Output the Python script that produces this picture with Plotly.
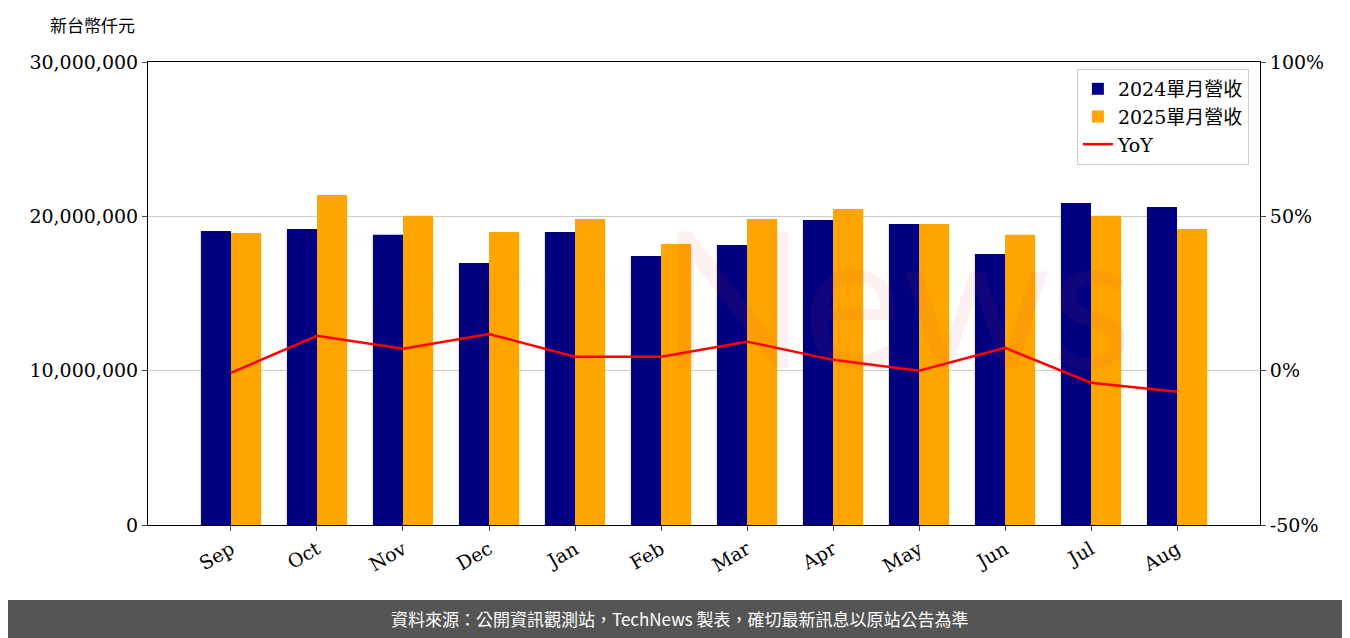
import plotly.graph_objects as go

months = ["Sep","Oct","Nov","Dec","Jan","Feb","Mar","Apr","May","Jun","Jul","Aug"]
rev2024 = [19050000,19180000,18800000,16980000,18990000,17430000,18150000,19770000,19500000,17560000,20870000,20600000]
rev2025 = [18920000,21390000,20030000,18990000,19830000,18210000,19830000,20480000,19500000,18800000,20030000,19180000]
yoy = [-0.7,11.3,7.1,11.9,4.5,4.5,9.4,3.5,0.0,7.4,-3.9,-6.8]
yoy_ticks = [-50, 0, 50, 100]

F = "DejaVu Serif, Noto Sans CJK TC"
fig = go.Figure()
fig.add_bar(x=months, y=rev2024, name="2024單月營收", marker=dict(color="#000080", line_width=0), yaxis="y")
fig.add_bar(x=months, y=rev2025, name="2025單月營收", marker=dict(color="#FFA500", line_width=0), yaxis="y")
fig.add_scatter(x=months, y=yoy, name="YoY", mode="lines", line=dict(color="red", width=2.5), yaxis="y2")

fig.update_layout(
    width=1350, height=638, margin=dict(l=140, r=98, t=54, b=121),
    plot_bgcolor="white", paper_bgcolor="white",
    font=dict(family=F, size=18, color="black"),
    barmode="group", bargap=0.3, bargroupgap=0,
    xaxis=dict(tickangle=-30, showline=True, linecolor="black", mirror=True, ticks="outside",
               range=[-0.965, 11.965], tickfont=dict(size=19), automargin=False),
    yaxis=dict(range=[0,30000000], tickvals=[0,10000000,20000000,30000000], tickformat=",", showgrid=True,
               gridcolor="#cccccc", showline=True, linecolor="black", ticks="outside", zeroline=False,
               automargin=False, tickfont=dict(size=19)),
    yaxis2=dict(range=[-50,100], overlaying="y", side="right", tickmode="array", tickvals=yoy_ticks,
                ticktext=[f"{v}%" for v in yoy_ticks], showgrid=False, showline=True, linecolor="black",
                ticks="outside", zeroline=False, automargin=False, tickfont=dict(size=19)),
    legend=dict(x=0.99, y=0.985, xanchor="right", yanchor="top", bordercolor="#cccccc", borderwidth=1,
                font=dict(size=19), bgcolor="rgba(255,255,255,0.8)"),
    showlegend=True,
)
fig.add_annotation(text="新台幣仟元", xref="paper", yref="paper", x=-0.09, y=1.05, xanchor="left", yanchor="bottom",
                   showarrow=False, font=dict(size=17, family="Noto Sans CJK TC"))
fig.add_annotation(text="<span style='color:rgba(110,110,110,0.14)'>Tech</span>News", xref="paper", yref="paper",
                   x=0.5, y=0.5, showarrow=False,
                   font=dict(size=190, family="Lato", color="rgba(220,60,60,0.08)"))
fig.add_shape(type="rect", xref="paper", yref="paper", x0=-0.2, x1=1.2, y0=-0.26, y1=-0.162,
              fillcolor="#555555", line_width=0, layer="above")
fig.add_annotation(text="資料來源：公開資訊觀測站，TechNews 製表，確切最新訊息以原站公告為準", xref="paper", yref="paper",
                   x=0.478, y=-0.203, yanchor="middle", showarrow=False,
                   font=dict(size=17, color="white", family="Noto Sans CJK TC"))
fig.write_html("out.html")
